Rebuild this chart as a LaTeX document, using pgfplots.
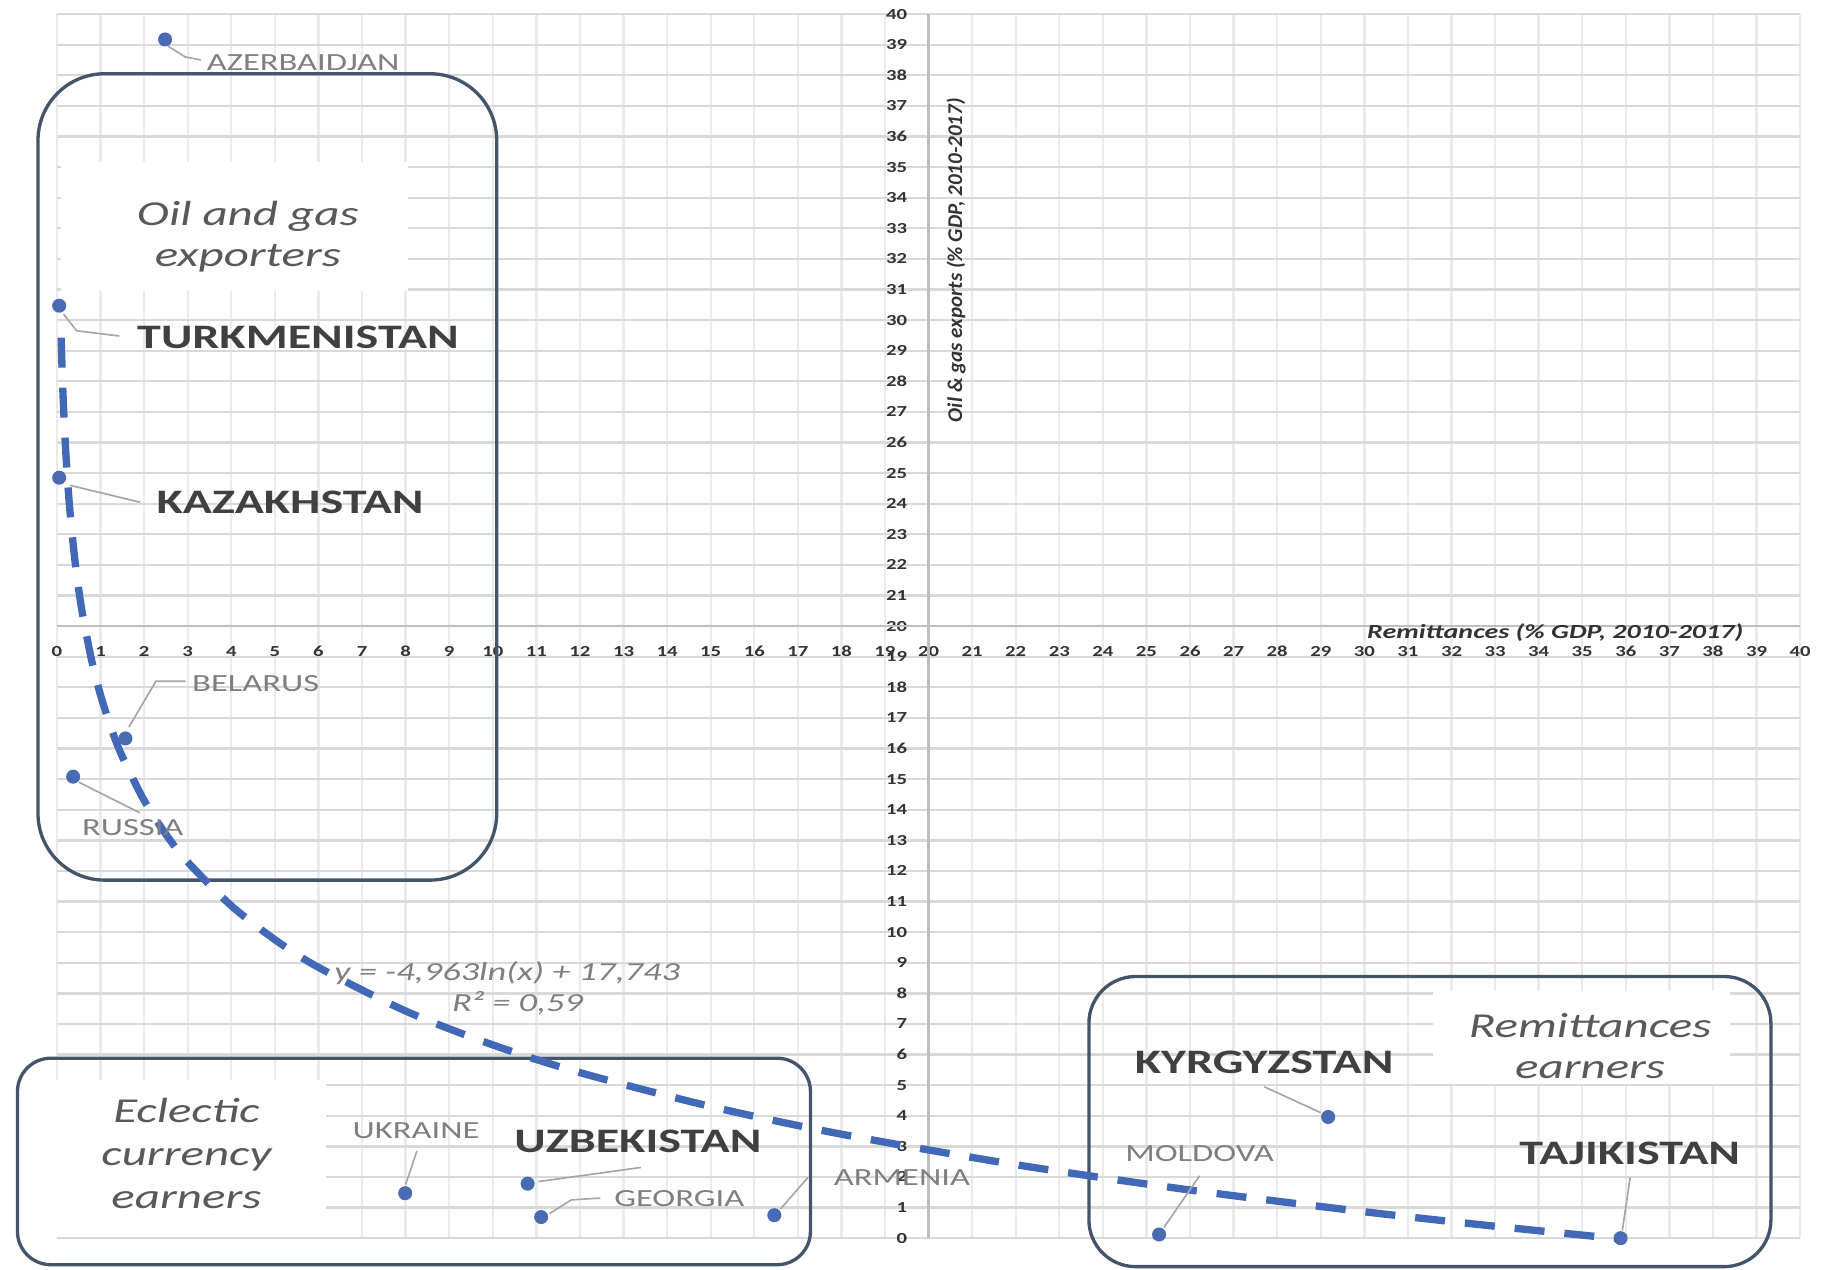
\documentclass[border=0pt]{standalone}
\usepackage{fontspec}
\setmainfont{Carlito}
\usepackage{pgfplots}
\pgfplotsset{compat=1.18}

\definecolor{trend}{HTML}{4169B8}
\definecolor{dot}{HTML}{4A6BB3}
\definecolor{frame}{HTML}{44546A}
\definecolor{lbldark}{HTML}{404040}
\definecolor{lblgray}{HTML}{7F7F7F}
\definecolor{grp}{HTML}{595959}
\definecolor{lead}{HTML}{A6A6A6}

\tikzset{
  big/.style={font=\fontsize{10.3}{12}\selectfont\bfseries, text=lbldark, xscale=1.4, inner sep=0pt},
  small/.style={font=\fontsize{7.4}{9}\selectfont, text=lblgray, xscale=1.4, inner sep=0pt},
  grplbl/.style={font=\fontsize{10.5}{12.2}\selectfont\itshape, text=grp, xscale=1.4, align=center, inner sep=0pt},
  leader/.style={draw=lead, line width=0.5pt},
  grpbox/.style={draw=frame, line width=1pt},
}

\begin{document}
\begin{tikzpicture}
\begin{axis}[
    scale only axis,
    width=522.9pt, height=367.2pt,
    xmin=0, xmax=40, ymin=0, ymax=40,
    xtick={0,...,40}, ytick={0,...,40},
    grid=major,
    x grid style={draw=gray!16, line width=0.7pt},
    y grid style={draw=gray!30, line width=0.7pt},
    axis line style={draw=none},
    major tick length=0pt,
    /pgf/number format/assume math mode=true,
    tick label style={font=\fontsize{4.6}{5.5}\selectfont\bfseries, text=black!80},
    xticklabel style={anchor=center, yshift=176.1pt, xscale=1.35},
    yticklabel style={anchor=east, inner sep=0pt, xshift=255.3pt, xscale=1.35},
    clip=false,
]

% white text boxes behind the group names
\fill[white] (axis cs:0.09,30.95) rectangle (axis cs:8.06,35.16);
\fill[white] (axis cs:-0.5,0.05) rectangle (axis cs:6.18,5.16);
\fill[white] (axis cs:31.58,5.03) rectangle (axis cs:38.39,8.07);

% axis lines through (20,20)
\draw[gray!50, line width=0.8pt] (axis cs:20,0) -- (axis cs:20,40);
\draw[gray!50, line width=0.8pt] (axis cs:0,20) -- (axis cs:40,20);

% group frames
\draw[grpbox, rounded corners=20pt] (axis cs:-0.436,11.7) rectangle (axis cs:10.09,38.05);
\draw[grpbox, rounded corners=10pt] (axis cs:-0.907,-0.867) rectangle (axis cs:17.29,5.88);
\draw[grpbox, rounded corners=14pt] (axis cs:23.68,-0.93) rectangle (axis cs:39.33,8.55);

% logarithmic trend line y = -4.963 ln(x) + 17.743
\addplot[trend, line width=2.2pt, dash pattern=on 9pt off 6pt, smooth] table {
x y
0.095 29.426
0.12 28.266
0.15 27.158
0.2 25.731
0.25 24.623
0.3 23.718
0.4 22.291
0.5 21.183
0.6 20.278
0.8 18.850
1 17.743
1.25 16.636
1.5 15.731
2 14.303
2.5 13.195
3 12.291
4 10.863
5 9.755
6 8.850
8 7.423
10 6.315
12 5.410
15 4.303
18 3.398
22 2.402
26 1.573
30 0.863
33 0.390
36 -0.042
};

% leader lines
\draw[leader] (axis cs:2.55,38.95) -- (axis cs:2.94,38.6) -- (axis cs:3.3,38.5);
\draw[leader] (axis cs:0.15,30.2) -- (axis cs:0.45,29.65) -- (axis cs:1.43,29.48);
\draw[leader] (axis cs:0.3,24.6) -- (axis cs:1.9,24.05);
\draw[leader] (axis cs:1.65,16.7) -- (axis cs:2.27,18.2) -- (axis cs:2.95,18.2);
\draw[leader] (axis cs:0.5,14.9) -- (axis cs:1.9,13.9);
\draw[leader] (axis cs:8.0,1.75) -- (axis cs:8.26,2.85);
\draw[leader] (axis cs:11.05,1.85) -- (axis cs:13.4,2.31);
\draw[leader] (axis cs:11.3,0.8) -- (axis cs:11.8,1.25) -- (axis cs:12.47,1.31);
\draw[leader] (axis cs:16.6,0.95) -- (axis cs:17.23,1.98);
\draw[leader] (axis cs:29.0,4.1) -- (axis cs:27.7,4.95);
\draw[leader] (axis cs:25.4,0.35) -- (axis cs:26.22,2.04);
\draw[leader] (axis cs:35.92,0.25) -- (axis cs:36.1,1.98);

% countries: remittances, oil & gas exports
\addplot[only marks, mark=*, mark size=1.9pt, mark options={fill=dot, draw=dot}] table {
x y
2.48 39.17
0.05 30.47
0.05 24.85
1.57 16.33
0.37 15.08
7.99 1.47
10.80 1.78
11.11 0.69
16.46 0.75
25.29 0.12
29.17 3.96
35.88 0.00
};

% country names
\node[small] at (axis cs:5.65,38.4) {AZERBAIDJAN};
\node[big] at (axis cs:5.53,29.45) {TURKMENISTAN};
\node[big] at (axis cs:5.35,24.05) {KAZAKHSTAN};
\node[small] at (axis cs:4.56,18.12) {BELARUS};
\node[small] at (axis cs:1.74,13.42) {RUSSIA};
\node[small] at (axis cs:8.24,3.5) {UKRAINE};
\node[big] at (axis cs:13.33,3.17) {UZBEKISTAN};
\node[small] at (axis cs:14.28,1.31) {GEORGIA};
\node[small] at (axis cs:19.39,1.98) {ARMENIA};
\node[big] at (axis cs:27.7,5.75) {KYRGYZSTAN};
\node[small] at (axis cs:26.22,2.78) {MOLDOVA};
\node[big] at (axis cs:36.09,2.78) {TAJIKISTAN};

% group names
\node[grplbl] at (axis cs:4.38,32.72) {Oil and gas\\exporters};
\node[grplbl, font=\fontsize{10.5}{12.8}\selectfont\itshape] at (axis cs:2.97,2.77) {Eclectic\\currency\\earners};
\node[grplbl] at (axis cs:35.18,6.28) {Remittances\\earners};

% trend equation
\node[font=\fontsize{7.8}{9}\selectfont\itshape, text=lblgray, xscale=1.4, inner sep=0pt] at (axis cs:10.33,8.66) {y = -4,963ln(x) + 17,743};
\node[font=\fontsize{7.8}{9}\selectfont\itshape, text=lblgray, xscale=1.4, inner sep=0pt] at (axis cs:10.57,7.67) {R² = 0,59};

% axis titles
\node[font=\fontsize{6}{7}\selectfont\bfseries\itshape, text=black!80, xscale=1.4, inner sep=0pt] at (axis cs:34.38,19.8) {Remittances (\% GDP, 2010-2017)};
\node[font=\fontsize{6.3}{7}\selectfont\bfseries\itshape, text=black!80, rotate=90, inner sep=0pt] at (axis cs:20.63,31.96) {Oil \& gas exports (\% GDP, 2010-2017)};

\coordinate (BL) at (axis cs:-1.308,-1.013);
\coordinate (TR) at (axis cs:40.64,40.46);
\end{axis}
\pgfresetboundingbox
\path[use as bounding box] (BL) rectangle (TR);
\end{tikzpicture}
\end{document}
